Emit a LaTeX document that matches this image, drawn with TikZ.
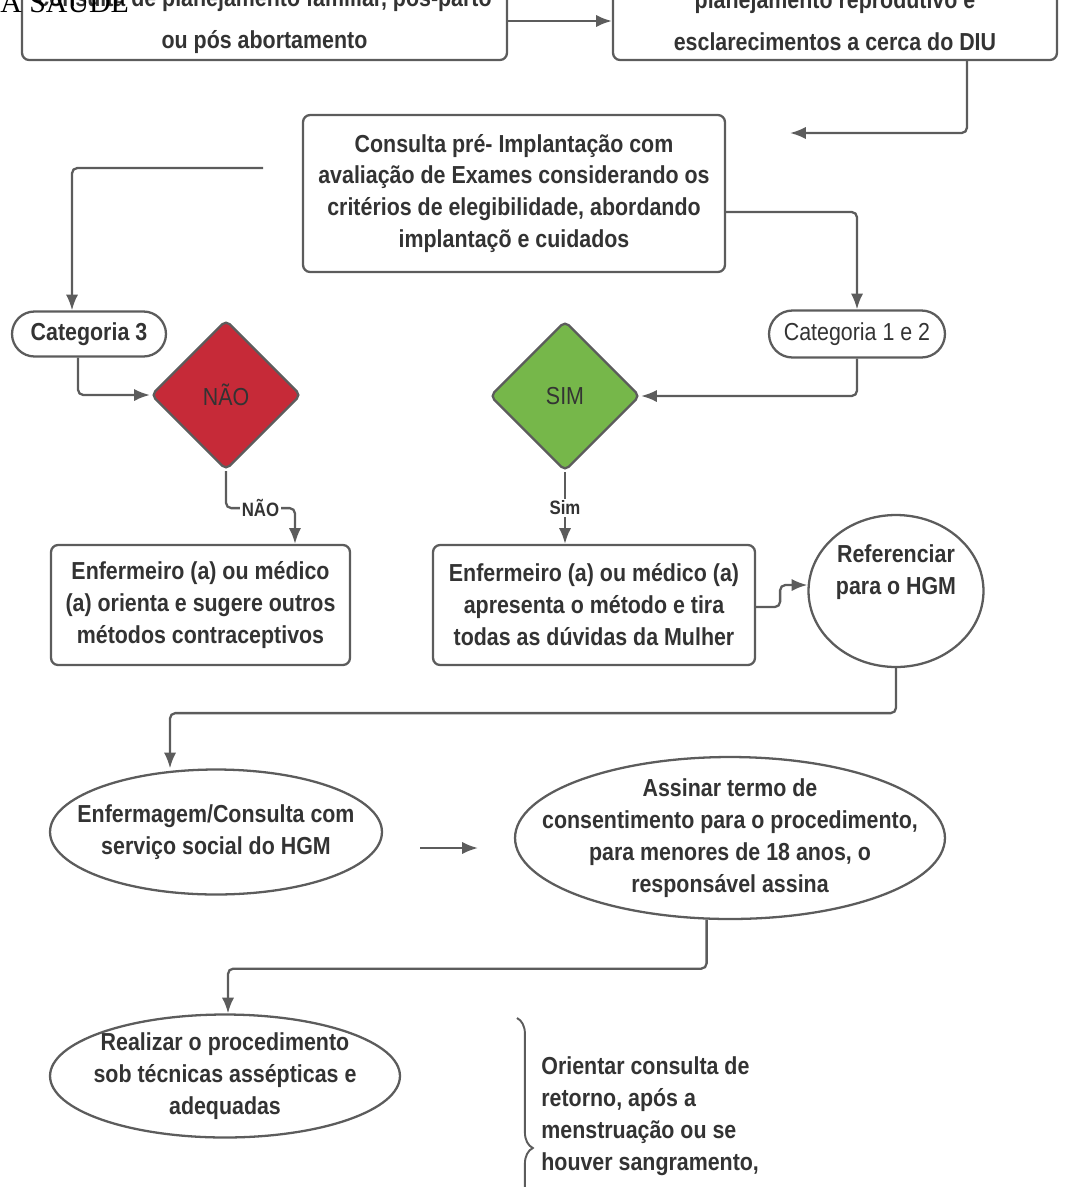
\documentclass[tikz,border=0pt]{standalone}
\usepackage{fontspec}
\setmainfont{Liberation Sans}[FakeStretch=0.87]
\newfontfamily\headfont{Liberation Serif}
\usetikzlibrary{shapes.geometric,shapes.misc,arrows.meta,positioning,decorations.pathreplacing}

\definecolor{linegray}{HTML}{5C5C5C}
\definecolor{txtgray}{HTML}{333333}
\definecolor{naored}{HTML}{C62A38}
\definecolor{simgreen}{HTML}{76B74A}

\tikzset{
  flowbox/.style={draw=linegray, line width=1.3pt, rounded corners=4pt, align=center, inner sep=0pt},
  pill/.style={draw=linegray, line width=1.3pt, rounded rectangle, align=center, inner sep=0pt},
  oval/.style={draw=linegray, line width=1.3pt, ellipse, align=center, inner xsep=-30pt, inner ysep=-12pt},
  decision/.style={draw=linegray, line width=1.3pt, diamond, rounded corners=3pt, inner sep=0pt,
    minimum width=3cm, minimum height=3cm, font=\fontsize{14}{18.2}\selectfont},
  flowline/.style={draw=linegray, line width=1.3pt},
  edgelabel/.style={fill=white, inner sep=1pt, font=\bfseries\fontsize{11}{13}\selectfont}
}

\begin{document}
\begin{tikzpicture}[x=0.02cm, y=-0.02cm, >={Latex[length=9pt,width=7pt]},
  every node/.style={text=txtgray, font=\bfseries\fontsize{14}{18.2}\selectfont}]
\useasboundingbox (0,0) rectangle (1089,1187);
\clip (0,0) rectangle (1089,1187);

% first row (top of the page is cut off)
\node (plan_fam) at (264.5,21) [flowbox, minimum width=9.7cm, minimum height=1.56cm] {consulta de planejamento familiar, pós-parto\\[5.8pt]ou pós abortamento};
\node (plan_rep) at (835,21) [flowbox, minimum width=8.88cm, minimum height=1.56cm] {planejamento reprodutivo e\\[5.8pt]esclarecimentos a cerca do DIU};
\draw [flowline, ->] (plan_fam) -- (plan_rep);
\node (head) [anchor=base west, inner sep=0pt, text=black, font=\headfont\fontsize{17}{17}\selectfont] at (0,12) {A SAÚDE};

\node (pre_impl) at (514,193.5) [flowbox, minimum width=8.44cm, minimum height=3.14cm] {Consulta pré- Implantação com\\avaliação de Exames considerando os\\critérios de elegibilidade, abordando\\implantaçõ e cuidados};
\coordinate (rep_end) at (790,133);
\draw [flowline, ->, rounded corners=3pt] ([xshift=2.64cm]plan_rep.south) |- (rep_end);

% categories
\node (cat3) at (89,334) [pill, minimum width=3.08cm, minimum height=0.9cm] {Categoria 3};
\node (cat12) at (857,334) [pill, minimum width=3.52cm, minimum height=0.94cm, font=\fontsize{14}{18.2}\selectfont] {Categoria 1 e 2};
\coordinate (cat3_start) at (263,168);
\draw [flowline, ->, rounded corners=3pt] (cat3_start) -| ([xshift=-0.34cm]cat3.north);
\draw [flowline, ->, rounded corners=3pt] ([yshift=-0.37cm]pre_impl.east) -| (cat12.north);

% decisions
\node (nao) at (226,395) [decision, fill=naored] {NÃO};
\node (sim) at (565,396) [decision, fill=simgreen] {SIM};
\draw [flowline, ->, rounded corners=3pt] ([xshift=-0.22cm]cat3.south) |- (nao.west);
\draw [flowline, ->, rounded corners=3pt] (cat12.south) |- (sim.east);

\node (orienta) at (200.5,605) [flowbox, minimum width=5.98cm, minimum height=2.4cm] {Enfermeiro (a) ou médico\\(a) orienta e sugere outros\\métodos contraceptivos};
\node (apresenta) at (594,605) [flowbox, minimum width=6.44cm, minimum height=2.4cm] {Enfermeiro (a) ou médico (a)\\apresenta o método e tira\\todas as dúvidas da Mulher};
\node (referenciar) at (896,591) [oval, minimum width=3.5cm, minimum height=3.04cm] {Referenciar\\para o HGM\\[6pt]};

\draw [flowline, ->, rounded corners=3pt] (nao.south) -- ++(0,37) -| node[edgelabel, pos=0.25] {NÃO} ([xshift=1.89cm]orienta.north);
\draw [flowline, ->] (sim.south) -- node[edgelabel] {Sim} (sim.south |- apresenta.north);
\draw [flowline, ->, rounded corners=3pt] ([yshift=-0.04cm]apresenta.east) -- ++(24,0) |- ([yshift=0.12cm]referenciar.west);

% HGM
\node (enfermagem) at (216,832) [oval, minimum width=6.64cm, minimum height=2.5cm] {Enfermagem/Consulta com\\serviço social do HGM};
\node (assinar) at (730,838) [oval, minimum width=8.6cm, minimum height=3.24cm] {Assinar termo de\\consentimento para o procedimento,\\para menores de 18 anos, o\\responsável assina};
\draw [flowline, ->, rounded corners=3pt] (referenciar.south) -- ++(0,45) -| ([xshift=-0.92cm]enfermagem.north);
\coordinate (gap_l) at (420,848);
\coordinate (gap_r) at (478,848);
\draw [flowline, ->] (gap_l) -- (gap_r);

\node (realizar) at (225,1076) [oval, minimum width=7cm, minimum height=2.46cm] {Realizar o procedimento\\sob técnicas assépticas e\\adequadas};
\draw [flowline, ->, rounded corners=3pt] (assinar.254) -- ++(0,49) -| ([xshift=0.06cm]realizar.north);

% follow-up note with brace
\coordinate (brace_top) at (517,1018);
\coordinate (brace_bot) at (517,1278);
\draw [flowline, line width=1.1pt, decorate, decoration={brace, amplitude=9pt}] (brace_top) -- (brace_bot);
\node (retorno) at (541,1056) [anchor=north west, align=left, inner sep=0pt] {Orientar consulta de\\retorno, após a\\menstruação ou se\\houver sangramento,};

\end{tikzpicture}
\end{document}
